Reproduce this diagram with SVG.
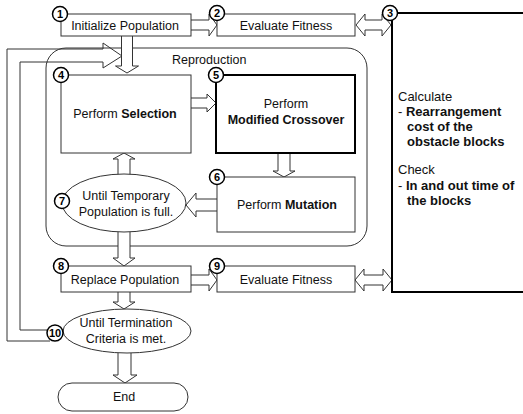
<svg xmlns="http://www.w3.org/2000/svg" width="523" height="414" viewBox="0 0 523 414">
<style>
  .box{fill:#fff;stroke:#333;stroke-width:1}
  .thick{fill:#fff;stroke:#000;stroke-width:2}
  .arr{fill:#fff;stroke:#333;stroke-width:1;stroke-linejoin:miter}
  .line{fill:none;stroke:#333;stroke-width:1}
  .num{fill:#fff;stroke:#000;stroke-width:1.5}
  .nt{font-family:"Liberation Sans",Arial,sans-serif;font-size:11px;font-weight:bold;fill:#000;text-anchor:middle}
  .t{font-family:"Liberation Sans",Arial,sans-serif;font-size:12.5px;fill:#111;text-anchor:middle}
  .tl{font-family:"Liberation Sans",Arial,sans-serif;font-size:12.5px;fill:#111}
  .side{font-family:"Liberation Sans",Arial,sans-serif;font-size:13px;fill:#111}
  .b{font-weight:bold}
</style>
<rect width="523" height="414" fill="#fff"/>
<g id="reproduction">
  <rect x="46" y="48" width="321" height="198" rx="20" class="box"/>
  <text x="172" y="64" class="tl">Reproduction</text>
</g>
<g id="connectors">
  <path class="line" d="M50,341 L7,341 L7,49 L103,49 L103,43 L122,56 L103,68 L103,62 L20,62 L20,330 L50,330"/>
  <path class="arr" d="M191,20 L209,20 L209,14 L217,25 L209,36 L209,30 L191,30"/>
  <path class="arr" d="M121.5,36 L121.5,66 L115.5,66 L127,73 L138.5,66 L132.5,66 L132.5,36"/>
  <path class="arr" d="M191,98 L207,98 L207,94 L216,103 L207,112 L207,108 L191,108"/>
  <path class="arr" d="M278,153 L278,171 L273,171 L284,177 L295,171 L290,171 L290,153"/>
  <path class="arr" d="M217,199 L196,199 L196,193 L186,205 L196,217 L196,211 L217,211"/>
  <path class="arr" d="M118,175 L118,159 L113,159 L124,153 L135,159 L130,159 L130,175"/>
  <path class="arr" d="M118,232 L118,258 L113,258 L124,266 L135,258 L130,258 L130,232"/>
  <path class="arr" d="M191,275 L209,275 L209,269 L217,280 L209,291 L209,285 L191,285"/>
  <path class="arr" d="M118,292 L118,302 L113,302 L124,309 L135,302 L130,302 L130,292"/>
  <path class="arr" d="M118,353 L118,375 L113,375 L125,383 L137,375 L131,375 L131,353"/>
  <path class="arr" d="M356,25 L365,14 L365,20 L382,20 L382,14 L391,25 L382,36 L382,30 L365,30 L365,36 Z"/>
  <path class="arr" d="M355,280 L364,269 L364,275 L383,275 L383,269 L392,280 L383,291 L383,285 L364,285 L364,291 Z"/>
</g>
<g id="n1">
  <rect x="61" y="14" width="130" height="22" class="box"/>
  <text x="125" y="30" class="t">Initialize Population</text>
  <circle cx="60" cy="14" r="7.5" class="num"/><text x="60" y="18" class="nt">1</text>
</g>
<g id="n2">
  <rect x="217" y="14" width="138" height="22" class="box"/>
  <text x="286" y="30" class="t">Evaluate Fitness</text>
  <circle cx="217" cy="13" r="7.5" class="num"/><text x="217" y="17" class="nt">2</text>
</g>
<g id="n3">
  <rect x="392" y="13" width="140" height="279" class="thick"/>
  <text x="398" y="101" class="side">Calculate</text>
  <text x="398" y="116" class="side"><tspan>- </tspan><tspan class="b">Rearrangement</tspan></text>
  <text x="407" y="131" class="side b">cost of the</text>
  <text x="407" y="146" class="side b">obstacle blocks</text>
  <text x="398" y="174" class="side">Check</text>
  <text x="398" y="190" class="side"><tspan>- </tspan><tspan class="b">In and out time of</tspan></text>
  <text x="407" y="205" class="side b">the blocks</text>
  <circle cx="390" cy="13" r="7.5" class="num"/><text x="390" y="17" class="nt">3</text>
</g>
<g id="n4">
  <rect x="61" y="75" width="130" height="78" class="box"/>
  <text x="125" y="118" class="t">Perform <tspan class="b">Selection</tspan></text>
  <circle cx="61" cy="75" r="7.5" class="num"/><text x="61" y="79" class="nt">4</text>
</g>
<g id="n5">
  <rect x="216" y="75" width="139" height="78" class="thick"/>
  <text x="286" y="108" class="t">Perform</text>
  <text x="286" y="124" class="t b">Modified Crossover</text>
  <circle cx="216" cy="75" r="7.5" class="num"/><text x="216" y="79" class="nt">5</text>
</g>
<g id="n6">
  <rect x="217" y="177" width="138" height="55" class="box"/>
  <text x="287" y="209" class="t">Perform <tspan class="b">Mutation</tspan></text>
  <circle cx="217" cy="177" r="7.5" class="num"/><text x="217" y="181" class="nt">6</text>
</g>
<g id="n7">
  <ellipse cx="124" cy="203" rx="62" ry="29" class="box"/>
  <text x="126" y="200" class="t">Until Temporary</text>
  <text x="126" y="216" class="t">Population is full.</text>
  <circle cx="62" cy="201" r="7.5" class="num"/><text x="62" y="205" class="nt">7</text>
</g>
<g id="n8">
  <rect x="61" y="266" width="130" height="26" class="box"/>
  <text x="125" y="284" class="t">Replace Population</text>
  <circle cx="61" cy="266" r="7.5" class="num"/><text x="61" y="270" class="nt">8</text>
</g>
<g id="n9">
  <rect x="217" y="266" width="138" height="26" class="box"/>
  <text x="286" y="284" class="t">Evaluate Fitness</text>
  <circle cx="217" cy="266" r="7.5" class="num"/><text x="217" y="270" class="nt">9</text>
</g>
<g id="n10">
  <ellipse cx="127" cy="331" rx="64" ry="22" class="box"/>
  <text x="126" y="327" class="t">Until Termination</text>
  <text x="126" y="343" class="t">Criteria is met.</text>
  <circle cx="55" cy="333" r="8" class="num"/><text x="55" y="337" class="nt">10</text>
</g>
<g id="end">
  <rect x="58" y="383" width="130" height="28" rx="14" class="box"/>
  <text x="124" y="401" class="t">End</text>
</g>
</svg>
